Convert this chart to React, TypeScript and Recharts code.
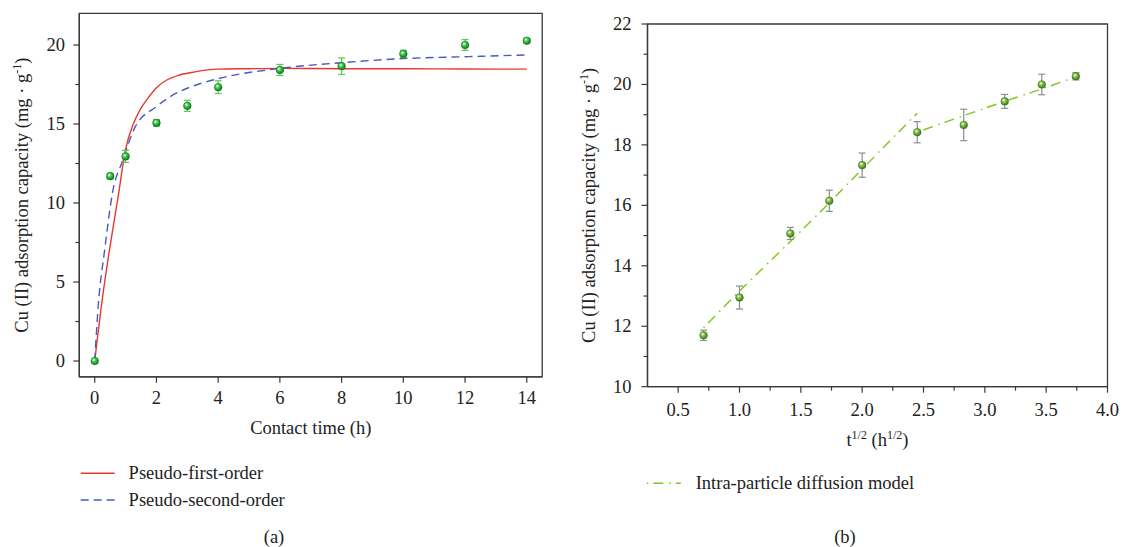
import React from "react";
import {
  ComposedChart,
  Line,
  Scatter,
  XAxis,
  YAxis,
  ErrorBar,
  ReferenceArea,
  Legend,
  Label,
} from "recharts";

// measured Cu(II) uptake, same runs in both panels
const contactTimes = [0, 0.5, 1, 2, 3, 4, 6, 8, 10, 12, 14];
const capacity = [0, 11.7, 12.95, 15.07, 16.15, 17.33, 18.42, 18.66, 19.44, 20.0, 20.27];
const capacityErr = [0, 0.17, 0.38, 0.2, 0.35, 0.4, 0.35, 0.52, 0.23, 0.34, 0.12];
// t^1/2 of the runs with t > 0
const rootTimes = [0.707, 1.0, 1.414, 1.732, 2.0, 2.449, 2.828, 3.162, 3.464, 3.742];

// fitted kinetic curves
const pfoTimes = [0, 0.25, 0.5, 0.75, 1, 1.25, 1.5, 1.75, 2, 2.35, 2.75, 3.25, 4, 5, 6, 8, 10, 12, 14];
const pfoValues = [0, 4.0, 7.3, 10.3, 13.4, 15.0, 16.0, 16.7, 17.3, 17.8, 18.1, 18.3, 18.47, 18.5, 18.52, 18.5, 18.5, 18.48, 18.47];
const psoTimes = [0, 0.11, 0.32, 0.59, 0.91, 1.32, 2, 2.59, 3.05, 4, 6, 8, 10, 12, 14];
const psoValues = [0, 3.4, 7.0, 10.8, 12.7, 14.85, 16.1, 16.9, 17.3, 17.87, 18.52, 18.88, 19.14, 19.26, 19.37];

// intra-particle diffusion, two linear stages
const ipd1X = [0.707, 1.0, 1.414, 1.732, 2.0, 2.449];
const ipd1Y = [11.95, 13.17, 14.8, 16.08, 17.2, 19.05];
const ipd2X = [2.449, 2.828, 3.162, 3.464, 3.742];
const ipd2Y = [18.42, 18.97, 19.44, 19.85, 20.25];

// ticks
const timeTicks = [0, 2, 4, 6, 8, 10, 12, 14];
const capTicksA = [0, 2.5, 5, 7.5, 10, 12.5, 15, 17.5, 20];
const rootTicks = [0.5, 0.75, 1.0, 1.25, 1.5, 1.75, 2.0, 2.25, 2.5, 2.75, 3.0, 3.25, 3.5, 3.75, 4.0];
const capTicksB = [10, 11, 12, 13, 14, 15, 16, 17, 18, 19, 20, 21, 22];

const FONT = "'Liberation Serif', 'Times New Roman', serif";
const FS = 18.5;
const INK = "#222";
const AXIS = "#3a3a3a";
const TICK = 6;
const GAP = 2;

const zip = (xs: number[], ys: number[]) => xs.map((x, i) => ({ x, y: ys[i] }));
const isMult = (v: number, step: number) => Math.abs(v / step - Math.round(v / step)) < 1e-6;

const pointsA = contactTimes.map((x, i) => ({ x, y: capacity[i], err: capacityErr[i] }));
const pointsB = rootTimes.map((x, i) => ({ x, y: capacity[i + 1], err: capacityErr[i + 1] }));

function xTick(step: number, digits: number, drop: number) {
  return (p: any) => {
    const v = p.payload.value;
    const major = isMult(v, step);
    const y0 = p.y - TICK - GAP;
    return (
      <g>
        <line x1={p.x} x2={p.x} y1={y0} y2={y0 + (major ? 6 : 4)} stroke={AXIS} strokeWidth={1.2} />
        {major && (
          <text x={p.x} y={y0 + drop} textAnchor="middle" fontFamily={FONT} fontSize={FS} fill={INK}>
            {v.toFixed(digits)}
          </text>
        )}
      </g>
    );
  };
}

function yTick(step: number, gap: number) {
  return (p: any) => {
    const v = p.payload.value;
    const major = isMult(v, step);
    const x0 = p.x + TICK + GAP;
    return (
      <g>
        <line x1={x0 - (major ? 6 : 4)} x2={x0} y1={p.y} y2={p.y} stroke={AXIS} strokeWidth={1.2} />
        {major && (
          <text x={x0 - gap} y={p.y + 6} textAnchor="end" fontFamily={FONT} fontSize={FS} fill={INK}>
            {String(v)}
          </text>
        )}
      </g>
    );
  };
}

const ball = (id: string, rim: string) => (p: any) => (
  <circle cx={p.cx} cy={p.cy} r={3.8} fill={`url(#${id})`} stroke={rim} strokeWidth={0.6} />
);

const yTitle = (dx: number) => (p: any) => {
  const vb = p.viewBox;
  const cx = vb.x + dx;
  const cy = vb.y + vb.height / 2;
  return (
    <text
      x={cx}
      y={cy}
      transform={`rotate(-90, ${cx}, ${cy})`}
      textAnchor="middle"
      fontFamily={FONT}
      fontSize={FS}
      fill={INK}
    >
      Cu (II) adsorption capacity (mg · g
      <tspan dy={-7} fontSize={12}>-1</tspan>
      <tspan dy={7}>)</tspan>
    </text>
  );
};

const dashes: Record<string, string | undefined> = {
  "Pseudo-first-order": undefined,
  "Pseudo-second-order": "8 5",
  "Intra-particle diffusion model": "1.5 5 10 6",
};

function legendBox(lineX: number, textX: number, rowY: number[], caption: string, captionX: number) {
  return (props: any) => {
    const items = (props.payload || []).filter((e: any) => e.type !== "none");
    return (
      <svg width={420} height={107} style={{ display: "block" }}>
        {items.map((e: any, i: number) => (
          <g key={e.value}>
            <line
              x1={lineX}
              x2={lineX + 34}
              y1={rowY[i]}
              y2={rowY[i]}
              stroke={e.color}
              strokeWidth={1.4}
              strokeDasharray={dashes[e.value]}
            />
            <text x={textX} y={rowY[i] + 6} fontFamily={FONT} fontSize={FS} fill={INK}>
              {e.value}
            </text>
          </g>
        ))}
        <text x={captionX} y={103} textAnchor="middle" fontFamily={FONT} fontSize={FS} fill={INK}>
          {caption}
        </text>
      </svg>
    );
  };
}

function PanelA() {
  return (
    <ComposedChart
      width={560}
      height={547}
      margin={{ top: 13.4, right: 17.8, bottom: 140.2, left: 19.3 }}
    >
      <defs>
        <radialGradient id="ballA" cx="38%" cy="35%" r="65%">
          <stop offset="0%" stopColor="#ffffff" />
          <stop offset="35%" stopColor="#4fcf55" />
          <stop offset="100%" stopColor="#0b7d1d" />
        </radialGradient>
      </defs>
      <XAxis
        type="number"
        dataKey="x"
        domain={[-0.5, 14.5]}
        allowDataOverflow
        ticks={timeTicks}
        interval={0}
        height={30}
        tickSize={TICK}
        tickMargin={GAP}
        tickLine={false}
        axisLine={{ stroke: AXIS, strokeWidth: 1.3 }}
        tick={xTick(2, 0, 27)}
      >
        <Label
          content={(p: any) => (
            <text
              x={p.viewBox.x + p.viewBox.width / 2}
              y={p.viewBox.y + 57}
              textAnchor="middle"
              fontFamily={FONT}
              fontSize={FS}
              fill={INK}
            >
              Contact time (h)
            </text>
          )}
        />
      </XAxis>
      <YAxis
        type="number"
        domain={[-1, 22]}
        allowDataOverflow
        ticks={capTicksA}
        interval={0}
        width={60}
        tickSize={TICK}
        tickMargin={GAP}
        tickLine={false}
        axisLine={{ stroke: AXIS, strokeWidth: 1.3 }}
        tick={yTick(5, 14.3)}
      >
        <Label content={yTitle(8.7)} />
      </YAxis>
      <ReferenceArea x1={-0.5} x2={14.5} y1={-1} y2={22} fill="none" stroke={AXIS} strokeWidth={1.3} />
      <Line
        data={zip(pfoTimes, pfoValues)}
        dataKey="y"
        name="Pseudo-first-order"
        type="monotone"
        stroke="#e8372c"
        strokeWidth={1.4}
        dot={false}
        isAnimationActive={false}
      />
      <Line
        data={zip(psoTimes, psoValues)}
        dataKey="y"
        name="Pseudo-second-order"
        type="monotone"
        stroke="#4a58c2"
        strokeWidth={1.4}
        strokeDasharray="8 5"
        dot={false}
        isAnimationActive={false}
      />
      <Scatter
        data={pointsA}
        dataKey="y"
        legendType="none"
        shape={ball("ballA", "#0b6d18")}
        isAnimationActive={false}
      >
        <ErrorBar dataKey="err" direction="y" width={3.5} stroke="#5cc853" strokeWidth={1.2} />
      </Scatter>
      <Legend
        layout="horizontal"
        verticalAlign="middle"
        align="center"
        wrapperStyle={{ left: 0, top: 440, width: 420, height: 107 }}
        content={legendBox(80.7, 128.6, [33.3, 60], "(a)", 274)}
      />
    </ComposedChart>
  );
}

function PanelB() {
  return (
    <ComposedChart
      width={564}
      height={547}
      margin={{ top: 24, right: 16.5, bottom: 130.3, left: 27.5 }}
    >
      <defs>
        <radialGradient id="ballB" cx="38%" cy="35%" r="65%">
          <stop offset="0%" stopColor="#ffffff" />
          <stop offset="35%" stopColor="#8cc45a" />
          <stop offset="100%" stopColor="#3f7a17" />
        </radialGradient>
      </defs>
      <XAxis
        type="number"
        dataKey="x"
        domain={[0.25, 4.0]}
        allowDataOverflow
        ticks={rootTicks}
        interval={0}
        height={30}
        tickSize={TICK}
        tickMargin={GAP}
        tickLine={false}
        axisLine={{ stroke: AXIS, strokeWidth: 1.3 }}
        tick={xTick(0.5, 1, 29.3)}
      >
        <Label
          content={(p: any) => (
            <text
              x={p.viewBox.x + p.viewBox.width / 2}
              y={p.viewBox.y + 59.3}
              textAnchor="middle"
              fontFamily={FONT}
              fontSize={FS}
              fill={INK}
            >
              t<tspan dy={-7} fontSize={12}>1/2</tspan>
              <tspan dy={7}> (h</tspan>
              <tspan dy={-7} fontSize={12}>1/2</tspan>
              <tspan dy={7}>)</tspan>
            </text>
          )}
        />
      </XAxis>
      <YAxis
        type="number"
        domain={[10, 22]}
        allowDataOverflow
        ticks={capTicksB}
        interval={0}
        width={60}
        tickSize={TICK}
        tickMargin={GAP}
        tickLine={false}
        axisLine={{ stroke: AXIS, strokeWidth: 1.3 }}
        tick={yTick(2, 16)}
      >
        <Label content={yTitle(7.1)} />
      </YAxis>
      <ReferenceArea x1={0.25} x2={4.0} y1={10} y2={22} fill="none" stroke={AXIS} strokeWidth={1.3} />
      <Line
        data={zip(ipd1X, ipd1Y)}
        dataKey="y"
        name="Intra-particle diffusion model"
        type="linear"
        stroke="#7cc71a"
        strokeWidth={1.4}
        strokeDasharray="1.5 5 10 6"
        dot={false}
        isAnimationActive={false}
      />
      <Line
        data={zip(ipd2X, ipd2Y)}
        dataKey="y"
        name="Intra-particle diffusion model (2)"
        legendType="none"
        type="linear"
        stroke="#7cc71a"
        strokeWidth={1.4}
        strokeDasharray="1.5 5 10 6"
        dot={false}
        isAnimationActive={false}
      />
      <Scatter
        data={pointsB}
        dataKey="y"
        legendType="none"
        shape={ball("ballB", "#37700f")}
        isAnimationActive={false}
      >
        <ErrorBar dataKey="err" direction="y" width={3.5} stroke="#8d8d8d" strokeWidth={1.2} />
      </Scatter>
      <Legend
        layout="horizontal"
        verticalAlign="middle"
        align="center"
        wrapperStyle={{ left: 0, top: 440, width: 420, height: 107 }}
        content={legendBox(86.8, 135.7, [43.3], "(b)", 285)}
      />
    </ComposedChart>
  );
}

export default function App() {
  return (
    <div
      style={{
        position: "absolute",
        left: 0,
        top: 0,
        width: 1124,
        height: 547,
        background: "#fff",
        display: "flex",
      }}
    >
      <PanelA />
      <PanelB />
    </div>
  );
}
